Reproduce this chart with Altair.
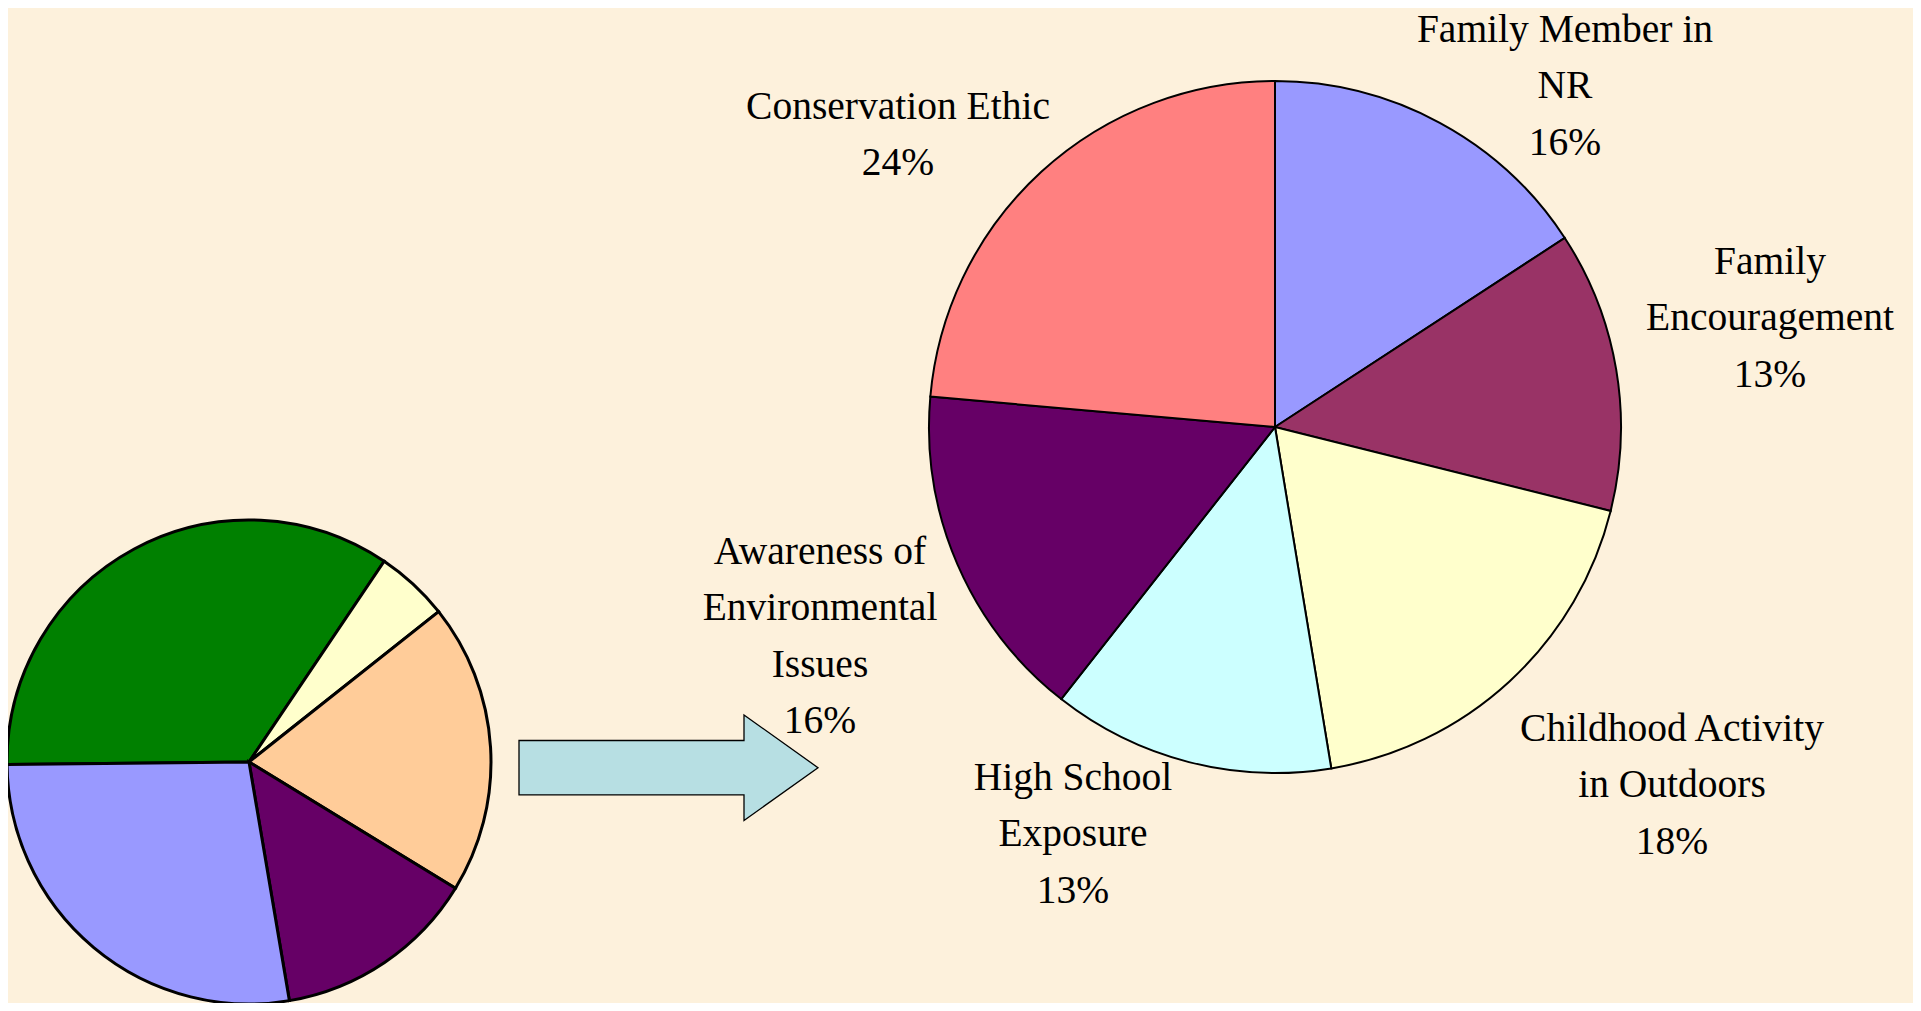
import math
import altair as alt
import pandas as pd

# ---------------- data ----------------
big_names = [
    ["Family Member in", "NR"],
    ["Family", "Encouragement"],
    ["Childhood Activity", "in Outdoors"],
    ["High School", "Exposure"],
    ["Awareness of", "Environmental", "Issues"],
    ["Conservation Ethic"],
]
big_values = [15.8, 13.1, 18.5, 13.2, 15.8, 23.6]
big_pct_labels = ["16%", "13%", "18%", "13%", "16%", "24%"]
big_colors = ["#9999FF", "#993366", "#FFFFCC", "#CCFFFF", "#660066", "#FF8080"]

small_names = ["A", "B", "C", "D", "E"]
small_values = [34.6, 4.9, 19.4, 13.6, 27.5]
small_colors = ["#008000", "#FFFFCC", "#FFCC99", "#660066", "#9999FF"]

# ---------------- layout (page pixels minus 8px margin) ----------------
M = 8
W, H = 1905, 995
BIG_C = (1275 - M, 427 - M)
BIG_R = 346
SMALL_C = (249 - M, 762 - M)
SMALL_R = 242
SMALL_START_DEG = 269.4
# first-line baseline anchor of each big-pie label
label_xy = [(1565, 42), (1770, 274), (1672, 741), (1073, 790), (820, 564), (898, 119)]
ARROW_C = (668.5 - M, 767.7 - M)
ARROW_W = 299

FONT = "Liberation Serif"
BG = "#FDF1DC"

big_df = pd.DataFrame({
    "name": [" ".join(n) for n in big_names],
    "value": big_values,
    "idx": list(range(len(big_values))),
})
small_df = pd.DataFrame({
    "name": small_names,
    "value": small_values,
    "idx": list(range(len(small_values))),
})
label_df = pd.DataFrame({
    "lines": [n + [p] for n, p in zip(big_names, big_pct_labels)],
    "lx": [x - M for x, _ in label_xy],
    "ly": [y - M for _, y in label_xy],
})

big_pie = alt.Chart(big_df).mark_arc(
    outerRadius=BIG_R, stroke="black", strokeWidth=2
).encode(
    theta=alt.Theta("value:Q", stack=True, scale=alt.Scale(range=[0, 2 * math.pi])),
    color=alt.Color("name:N",
                    scale=alt.Scale(domain=big_df["name"].tolist(), range=big_colors),
                    legend=None),
    order=alt.Order("idx:Q"),
    x=alt.value(BIG_C[0]),
    y=alt.value(BIG_C[1]),
)

s0 = math.radians(SMALL_START_DEG)
small_pie = alt.Chart(small_df).mark_arc(
    outerRadius=SMALL_R, stroke="black", strokeWidth=3
).encode(
    theta=alt.Theta("value:Q", stack=True, scale=alt.Scale(range=[s0, s0 + 2 * math.pi])),
    color=alt.Color("name:N",
                    scale=alt.Scale(domain=small_names, range=small_colors),
                    legend=None),
    order=alt.Order("idx:Q"),
    x=alt.value(SMALL_C[0]),
    y=alt.value(SMALL_C[1]),
)

arrow_path = ("M -1 -0.182 L 0.505 -0.182 L 0.505 -0.353 L 1 0 "
              "L 0.505 0.353 L 0.505 0.182 L -1 0.182 Z")
arrow = alt.Chart(pd.DataFrame({"k": [0]})).mark_point(
    shape=arrow_path, size=ARROW_W ** 2, filled=True,
    fill="#B7DFE3", stroke="black", strokeWidth=1.3, opacity=1,
).encode(
    x=alt.value(ARROW_C[0]),
    y=alt.value(ARROW_C[1]),
)

labels = alt.Chart(label_df).mark_text(
    font=FONT, fontSize=39.5, lineHeight=56.3, align="center",
    baseline="alphabetic", color="black",
).encode(
    x=alt.X("lx:Q", scale=None, axis=None),
    y=alt.Y("ly:Q", scale=None, axis=None),
    text="lines",
)

chart = alt.layer(small_pie, arrow, big_pie, labels).resolve_scale(
    theta="independent", color="independent"
).properties(
    width=W, height=H, padding=0, autosize=alt.AutoSizeParams(type="none"),
    background=BG,
).configure_view(stroke=None)

chart.save("out.html", embed_options={"renderer": "svg", "actions": False})
